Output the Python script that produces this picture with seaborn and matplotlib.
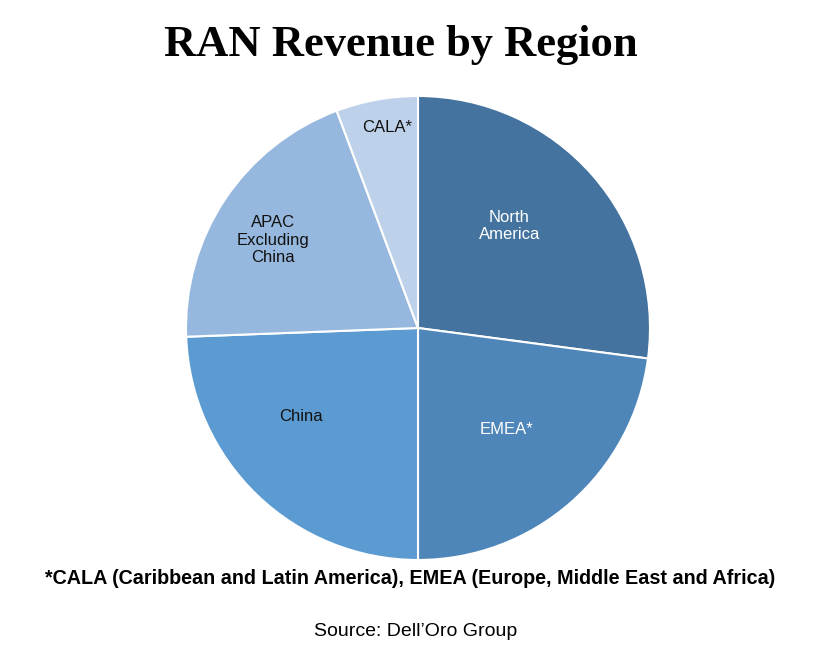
import matplotlib
matplotlib.use("Agg")
import matplotlib.pyplot as plt
import seaborn as sns
import numpy as np

sns.set_theme(style="white")
plt.rcParams['font.family'] = ['Liberation Sans', 'DejaVu Sans']
plt.rcParams['text.color'] = 'black'

# ==========================================
# DATA
# ==========================================
regions = ["North\nAmerica", "EMEA*", "China", "APAC\nExcluding\nChina", "CALA*"]
share = [27.1, 22.9, 24.4, 19.9, 5.7]
colors = ["#43739E", "#4F86BA", "#5C9BD1", "#96B8DE", "#BED1EA"]
label_colors = ["white", "white", "#111111", "#111111", "#111111"]

# label placement: distance from centre (in radii) and angle shift from wedge middle
label_dist = [0.59, 0.58, 0.63, 0.73, 0.875]
label_shift = [7, 0, -9, 2.5, -1.5]

fig = plt.figure(figsize=(8.22, 6.69), dpi=100)
r_px = 232
cx, cy = 418, 669 - 328
half = r_px * 1.25
ax = fig.add_axes([(cx - half) / 822, (cy - half) / 669, 2 * half / 822, 2 * half / 669])

wedges, _ = ax.pie(share, colors=colors, startangle=90, counterclock=False,
                   wedgeprops=dict(edgecolor="white", linewidth=1.5))

for w, lab, c, d, s in zip(wedges, regions, label_colors, label_dist, label_shift):
    mid = np.deg2rad((w.theta1 + w.theta2) / 2 + s)
    ax.text(d * np.cos(mid), d * np.sin(mid), lab, ha="center", va="center",
            fontsize=12, color=c, linespacing=1.2)

fig.text(0.488, 1 - 45 / 669, "RAN Revenue by Region", ha="center", va="center",
         fontsize=32, fontweight="bold", family="Liberation Serif")
fig.text(0.499, 1 - 579 / 669,
         "*CALA (Caribbean and Latin America), EMEA (Europe, Middle East and Africa)",
         ha="center", va="center", fontsize=14.2, fontweight="bold")
fig.text(0.506, 1 - 631 / 669, "Source: Dell\u2019Oro Group", ha="center", va="center",
         fontsize=14)

plt.savefig("out.png", dpi=100)
